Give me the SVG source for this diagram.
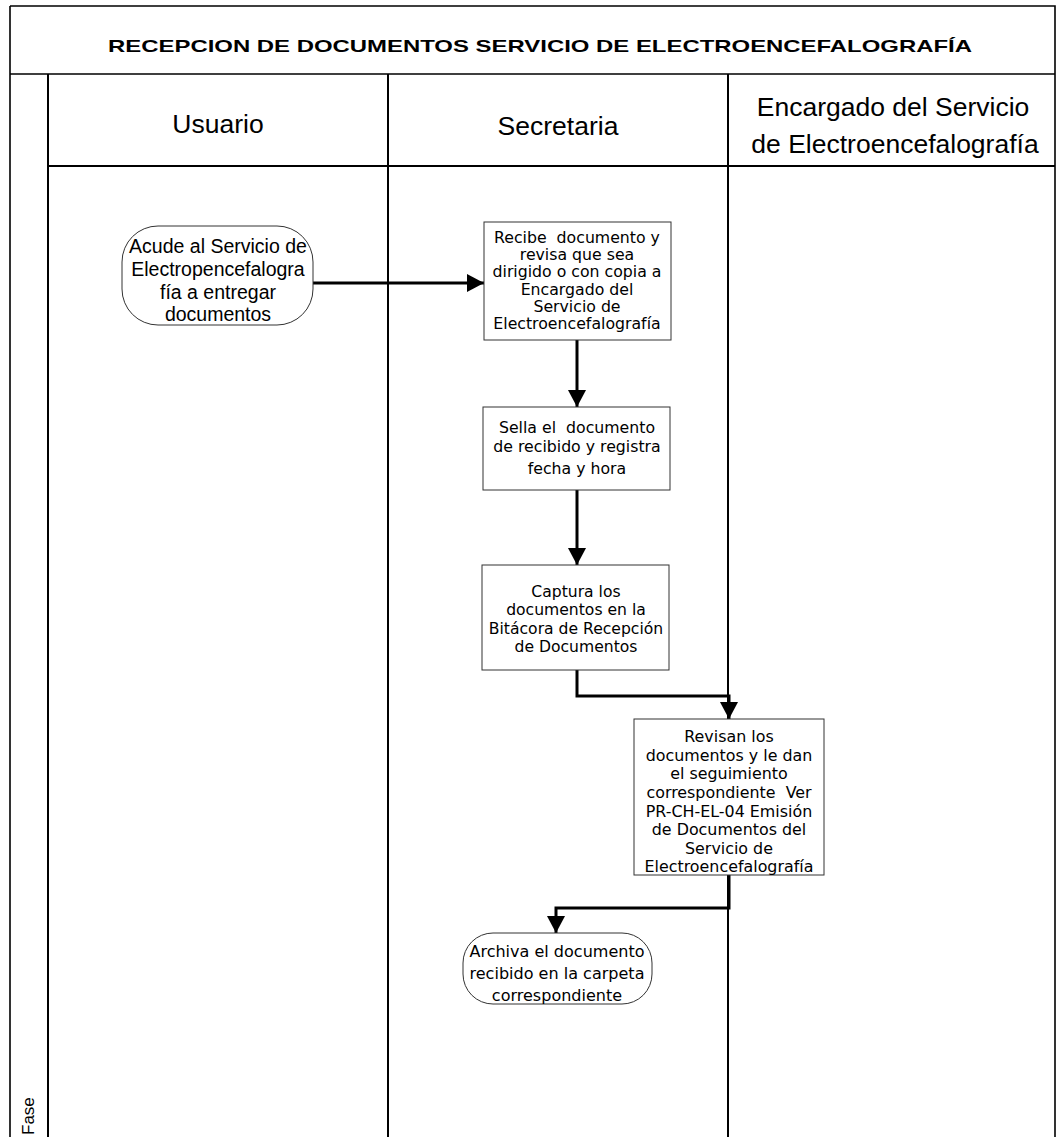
<svg xmlns="http://www.w3.org/2000/svg" width="1056" height="1137" viewBox="0 0 1056 1137">
<defs>
<style>
.frame{fill:none;stroke:#000;stroke-width:1.6}
.lane{fill:none;stroke:#000;stroke-width:2}
.box{fill:#fff;stroke:#333;stroke-width:1}
.conn{fill:none;stroke:#000;stroke-width:3}
.title{font-family:"Liberation Sans",Arial,sans-serif;font-weight:bold;font-size:17px;fill:#000}
.hdr{font-family:"Liberation Sans",Arial,sans-serif;font-size:26.5px;fill:#000;text-anchor:middle}
.t1{font-family:"Liberation Sans",Arial,sans-serif;font-size:19.5px;fill:#000;text-anchor:middle}
.bx{font-family:"DejaVu Sans",Verdana,sans-serif;font-size:15px;fill:#000;text-anchor:middle;white-space:pre}
.fase{font-family:"Liberation Sans",Arial,sans-serif;font-size:17px;fill:#000}
</style>
<marker id="ah" markerUnits="userSpaceOnUse" markerWidth="18" markerHeight="18" refX="17" refY="9" orient="auto">
<path d="M0,0 L17,9 L0,18 z" fill="#000"/>
</marker>
</defs>
<rect width="1056" height="1137" fill="#fff"/>
<g id="frame">
<path class="frame" d="M10,6 H1055 V1137 M10,6 V1137 M10,74 H1055"/>
<path class="lane" d="M48,74 V1137 M48,166 H1055 M388,74 V1137 M728,74 V1137"/>
<text class="title" x="108" y="52" textLength="864" lengthAdjust="spacingAndGlyphs">RECEPCION DE DOCUMENTOS SERVICIO DE ELECTROENCEFALOGRAFÍA</text>
<text class="hdr" x="218" y="133">Usuario</text>
<text class="hdr" x="558" y="135">Secretaria</text>
<text class="hdr" x="893" y="116">Encargado del Servicio</text>
<text class="hdr" x="895" y="153">de Electroencefalografía</text>
<text class="fase" transform="translate(34,1135) rotate(-90)">Fase</text>
</g>
<g id="connectors">
<path class="conn" d="M313,283 H484" marker-end="url(#ah)"/>
<path class="conn" d="M577,340 V407" marker-end="url(#ah)"/>
<path class="conn" d="M577,490 V565" marker-end="url(#ah)"/>
<path class="conn" d="M577,670 V696 H729 V719" marker-end="url(#ah)"/>
<path class="conn" d="M729,875 V908 H556 V933" marker-end="url(#ah)"/>
</g>
<g id="n1">
<rect class="box" x="122" y="226" width="191" height="99" rx="36" ry="36"/>
<text class="t1" x="218" y="253">Acude al Servicio de</text>
<text class="t1" x="218" y="276">Electropencefalogra</text>
<text class="t1" x="218" y="299">fía a entregar</text>
<text class="t1" x="218" y="321">documentos</text>
</g>
<g id="n2">
<rect class="box" x="484" y="222" width="187" height="118"/>
<g transform="matrix(1.05 0 0 1 -28.85 0)">
<text class="bx" x="577" y="243">Recibe  documento y</text>
<text class="bx" x="577" y="260">revisa que sea</text>
<text class="bx" x="577" y="277">dirigido o con copia a</text>
<text class="bx" x="577" y="295">Encargado del</text>
<text class="bx" x="577" y="312">Servicio de</text>
<text class="bx" x="577" y="329">Electroencefalografía</text>
</g>
</g>
<g id="n3">
<rect class="box" x="483" y="407" width="187" height="83"/>
<g transform="matrix(1.05 0 0 1 -28.85 0)">
<text class="bx" x="577" y="433">Sella el  documento</text>
<text class="bx" x="577" y="452">de recibido y registra</text>
<text class="bx" x="577" y="474">fecha y hora</text>
</g>
</g>
<g id="n4">
<rect class="box" x="482" y="565" width="187" height="105"/>
<g transform="matrix(1.04 0 0 1 -23.04 0)">
<text class="bx" x="576" y="597">Captura los</text>
<text class="bx" x="576" y="615">documentos en la</text>
<text class="bx" x="576" y="634">Bitácora de Recepción</text>
<text class="bx" x="576" y="652">de Documentos</text>
</g>
</g>
<g id="n5">
<rect class="box" x="634" y="719" width="190" height="156"/>
<g transform="matrix(1.06 0 0 1 -43.74 0)">
<text class="bx" x="729" y="742">Revisan los</text>
<text class="bx" x="729" y="761">documentos y le dan</text>
<text class="bx" x="729" y="779">el seguimiento</text>
<text class="bx" x="729" y="798">correspondiente  Ver</text>
<text class="bx" x="729" y="817">PR-CH-EL-04 Emisión</text>
<text class="bx" x="729" y="835">de Documentos del</text>
<text class="bx" x="729" y="854">Servicio de</text>
<text class="bx" x="729" y="872">Electroencefalografía</text>
</g>
</g>
<g id="n6">
<rect class="box" x="463" y="933" width="189" height="71" rx="30" ry="30"/>
<g transform="matrix(1.07 0 0 1 -38.99 0)">
<text class="bx" x="557" y="957">Archiva el documento</text>
<text class="bx" x="557" y="979">recibido en la carpeta</text>
<text class="bx" x="557" y="1001">correspondiente</text>
</g>
</g>
</svg>
